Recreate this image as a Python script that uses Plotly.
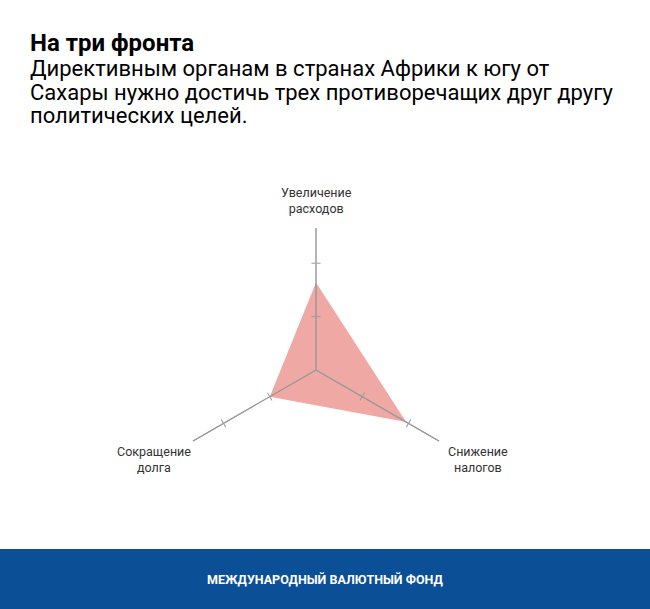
import math
import plotly.graph_objects as go

# data
categories = ["Увеличение<br>расходов", "Снижение<br>налогов", "Сокращение<br>долга"]
values = [1.64, 1.95, 1.0]
radial_ticks = [1, 2]
radial_max = 2.66

title = "На три фронта"
subtitle_lines = ["Директивным органам в странах Африки к югу от",
                  "Сахары нужно достичь трех противоречащих друг другу",
                  "политических целей."]
footer = "МЕЖДУНАРОДНЫЙ ВАЛЮТНЫЙ ФОНД"

W, H = 650, 609
cx, cy, R = 316, 370, 142          # radar centre / radius in px
dom_x = [(cx - R) / W, (cx + R) / W]
dom_y = [1 - (cy + R) / H, 1 - (cy - R) / H]
axis_grey = "#9a9a9a"
spoke_angles = [90, -30, 210]
label_angles = [90, -28.8, 208.8]
label_dist = [170, 185, 185]

fig = go.Figure()

fig.add_trace(go.Scatterpolar(
    r=values + values[:1], theta=categories + categories[:1],
    mode="none", fill="toself", fillcolor="#F0A8A4",
    subplot="polar", showlegend=False, hoverinfo="skip"))

layout = dict(
    width=W, height=H,
    margin=dict(l=0, r=0, t=0, b=0),
    paper_bgcolor="white",
    showlegend=False,
    font=dict(family="Roboto", color="#333333"),
)

layout["polar"] = dict(
    domain=dict(x=dom_x, y=dom_y),
    bgcolor="rgba(0,0,0,0)",
    angularaxis=dict(rotation=90, direction="clockwise", showline=False,
                     showgrid=False, ticks="", showticklabels=False,
                     categoryorder="array", categoryarray=categories),
    radialaxis=dict(range=[0, radial_max], tickvals=radial_ticks,
                    showticklabels=False, showline=False, showgrid=False,
                    ticks=""),
)

# one overlay polar per spoke and tick side, so every spoke gets crossing ticks
n = 2
for ang in spoke_angles:
    for side in ["outside", "inside"]:
        name = "polar%d" % n
        layout[name] = dict(
            domain=dict(x=dom_x, y=dom_y),
            bgcolor="rgba(0,0,0,0)",
            angularaxis=dict(showline=False, showgrid=False, ticks="",
                             showticklabels=False),
            radialaxis=dict(range=[0, radial_max], angle=ang, tickvals=radial_ticks,
                            showticklabels=False, showgrid=False, showline=True,
                            linecolor=axis_grey, linewidth=1, ticks=side,
                            ticklen=4, tickcolor=axis_grey, tickwidth=1),
        )
        fig.add_trace(go.Scatterpolar(r=[], theta=[], subplot=name,
                                      showlegend=False, hoverinfo="skip"))
        n += 1

fig.update_layout(**layout)

# axis labels, centred text placed just beyond each spoke end
for cat, ang, d in zip(categories, label_angles, label_dist):
    lx = cx + d * math.cos(math.radians(ang))
    ly = cy - d * math.sin(math.radians(ang))
    fig.add_annotation(text=cat, xref="paper", yref="paper",
                       x=lx / W, y=1 - ly / H, xanchor="center", yanchor="middle",
                       showarrow=False, align="center",
                       font=dict(family="Roboto", size=12.5, color="#333333"))

fig.add_annotation(text="<b>" + title + "</b>", xref="paper", yref="paper",
                   x=29 / W, y=1 - 58 / H, xanchor="left", yanchor="bottom",
                   showarrow=False, align="left", borderpad=0,
                   font=dict(family="Roboto", size=24, color="#000000"))
for i, line in enumerate(subtitle_lines):
    fig.add_annotation(text=line, xref="paper", yref="paper",
                       x=29 / W, y=1 - (82 + 23.5 * i) / H, xanchor="left", yanchor="bottom",
                       showarrow=False, align="left", borderpad=0,
                       font=dict(family="Roboto", size=22, color="#000000"))

fig.add_shape(type="rect", xref="paper", yref="paper", x0=0, x1=1,
              y0=0, y1=60 / H, fillcolor="#0B4F96", line_width=0, layer="below")
fig.add_annotation(text="<b>" + footer + "</b>", xref="paper", yref="paper",
                   x=0.5, y=30 / H, xanchor="center", yanchor="middle",
                   showarrow=False, font=dict(family="Roboto", size=12.5, color="white"))

fig.write_html("out.html", config={"displayModeBar": False},
               post_script="document.body.style.margin='0';"
                           "document.body.style.overflow='hidden';")
